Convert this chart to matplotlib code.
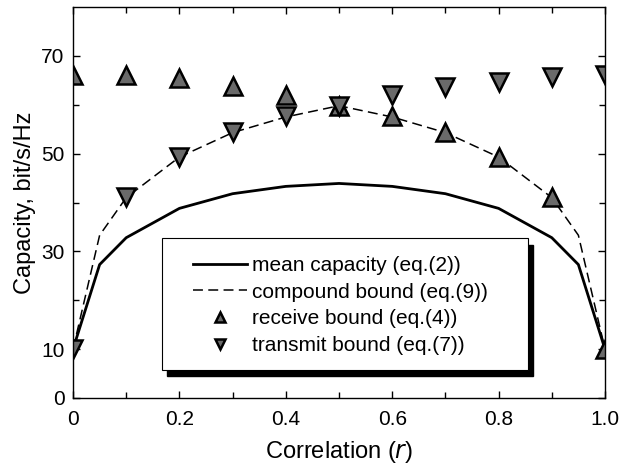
import numpy as np
import matplotlib
matplotlib.use("Agg")
import matplotlib.pyplot as plt
from matplotlib.patches import Rectangle
from matplotlib.ticker import MultipleLocator, FixedLocator

plt.rcParams['font.family'] = ['Liberation Sans', 'DejaVu Sans']

# mean capacity curve
r_mean = [0, 0.05, 0.1, 0.2, 0.3, 0.4, 0.5, 0.6, 0.7, 0.8, 0.9, 0.95, 1.0]
c_mean = [10, 27.3, 32.8, 38.8, 41.8, 43.3, 43.9, 43.3, 41.8, 38.8, 32.8, 27.3, 10]

# compound bound curve
r_comp = [0, 0.05, 0.1, 0.2, 0.3, 0.4, 0.5, 0.6, 0.7, 0.8, 0.9, 0.95, 1.0]
c_comp = [10, 33.3, 41.0, 49.3, 54.3, 57.5, 59.8, 57.5, 54.3, 49.3, 41.0, 33.3, 10]

# receive / transmit bounds
r_pts = [0, 0.1, 0.2, 0.3, 0.4, 0.5, 0.6, 0.7, 0.8, 0.9, 1.0]
c_recv = [66.0, 66.0, 65.4, 63.8, 62.0, 59.7, 57.6, 54.4, 49.3, 41.1, 10]
c_trans = [10, 41.1, 49.3, 54.4, 57.6, 59.7, 62.0, 63.6, 64.6, 65.6, 66.0]

fig = plt.figure(figsize=(6.21, 4.68), dpi=100)
ax = fig.add_axes([0.1176, 0.1496, 0.8566, 0.8354])

ax.plot(r_mean, c_mean, color='k', lw=2.0, label='mean capacity (eq.(2))')
ax.plot(r_comp, c_comp, color='k', lw=1.1, dashes=(6.5, 3.5), label='compound bound (eq.(9))')
ax.plot(r_pts, c_recv, ls='none', marker='^', ms=13, mfc='#6a6a6a', mec='k', mew=1.8,
        label='receive bound (eq.(4))')
ax.plot(r_pts, c_trans, ls='none', marker='v', ms=13, mfc='#6a6a6a', mec='k', mew=1.8,
        label='transmit bound (eq.(7))')

ax.set_xlim(0, 1.0)
ax.set_ylim(0, 80)
ax.xaxis.set_major_locator(FixedLocator([0, 0.2, 0.4, 0.6, 0.8, 1.0]))
ax.set_xticklabels(['0', '0.2', '0.4', '0.6', '0.8', '1.0'])
ax.xaxis.set_minor_locator(MultipleLocator(0.1))
ax.yaxis.set_major_locator(FixedLocator([0, 10, 30, 50, 70]))
ax.yaxis.set_minor_locator(FixedLocator([20, 40, 60]))

ax.tick_params(which='both', direction='in', top=True, right=True, width=1.0)
ax.tick_params(which='major', length=5, labelsize=15)
ax.tick_params(which='minor', length=4)
ax.tick_params(axis='x', pad=8.5)
ax.tick_params(axis='y', pad=6)
for s in ax.spines.values():
    s.set_linewidth(1.0)

ax.set_ylabel('Capacity, bit/s/Hz', fontsize=17, labelpad=4)
ax.set_xlabel('Correlation ($\\it{r}$)', fontsize=17, labelpad=7.5)

# legend box with a hard black shadow
bx0, by0, bw, bh = 0.167, 0.072, 0.688, 0.337
ax.add_patch(Rectangle((bx0 + 0.009, by0 - 0.017), bw, bh, transform=ax.transAxes,
                       facecolor='k', edgecolor='k', zorder=5))
ax.add_patch(Rectangle((bx0, by0), bw, bh, transform=ax.transAxes,
                       facecolor='white', edgecolor='k', lw=0.8, zorder=6))
leg = ax.legend(loc='upper left', bbox_to_anchor=(0.2256, 0.363), frameon=False,
                fontsize=15, handlelength=2.6, handletextpad=0.25, labelspacing=0.37,
                markerscale=0.55, borderaxespad=0, borderpad=0)
leg.set_zorder(7)

fig.savefig('out.png', dpi=100)
